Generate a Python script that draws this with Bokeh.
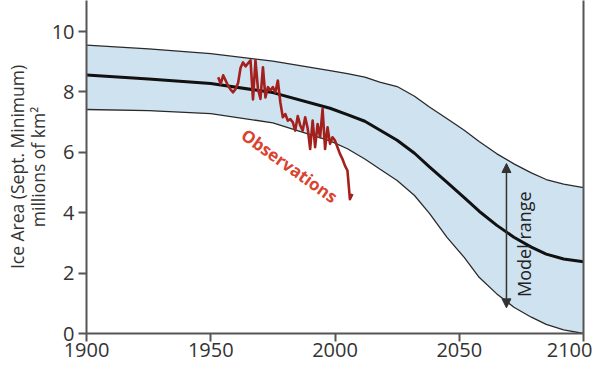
import math
from bokeh.plotting import figure
from bokeh.models import Range1d, LinearAxis, FixedTicker, Arrow, NormalHead, Label
from bokeh.embed import file_html
from bokeh.resources import INLINE

# ---- data ----
model_years = [1900, 1925, 1950, 1975, 1998, 2005, 2012, 2018, 2025, 2032, 2038,
               2045, 2052, 2058, 2065, 2072, 2079, 2085, 2092, 2100]
model_upper = [9.55, 9.43, 9.27, 9.02, 8.71, 8.61, 8.49, 8.33, 8.18, 7.86, 7.50,
               7.12, 6.73, 6.36, 5.96, 5.62, 5.32, 5.10, 4.95, 4.83]
model_mean = [8.56, 8.43, 8.28, 7.98, 7.46, 7.25, 7.03, 6.74, 6.40, 5.97, 5.52,
              5.01, 4.50, 4.05, 3.59, 3.19, 2.86, 2.63, 2.47, 2.38]
model_lower = [7.42, 7.38, 7.28, 6.98, 6.38, 6.12, 5.78, 5.45, 5.07, 4.57, 3.98,
               3.19, 2.52, 1.86, 1.32, 0.87, 0.54, 0.30, 0.12, 0.0]

obs_years = list(range(1953, 2008))
obs_values = [8.49, 8.27, 8.55, 8.38, 8.20, 8.08, 7.99, 8.10, 8.30, 8.80,
              8.98, 8.85, 8.95, 9.05, 7.75, 9.05, 8.10, 7.77, 8.82, 7.82,
              8.16, 8.05, 8.16, 7.99, 8.38, 7.66, 7.16, 7.27, 7.05, 7.10,
              7.00, 6.72, 7.20, 6.90, 6.72, 7.16, 6.80, 6.11, 7.05, 6.17,
              6.94, 6.50, 7.44, 6.11, 6.83, 6.28, 6.50, 6.39, 6.17, 5.95,
              5.78, 5.56, 5.40, 4.45, 4.62]

x_ticks = [1900, 1950, 2000, 2050, 2100]
y_ticks = [0, 2, 4, 6, 8, 10]

arrow_year = 2069
arrow_low, arrow_high = 0.85, 5.63

FONT = "Open Sans"
AXIS_COLOR = "#555555"
TEXT_COLOR = "#333333"

p = figure(width=592, height=368, x_range=Range1d(1900, 2100), y_range=Range1d(0, 11.03),
           output_backend="svg", toolbar_location=None,
           min_border_left=86, min_border_right=9, min_border_top=0, min_border_bottom=35)
p.grid.visible = False
p.outline_line_color = None
p.background_fill_color = "white"

# model band
p.varea(x=model_years, y1=model_lower, y2=model_upper, fill_color="#cfe2f0")
p.line(model_years, model_upper, line_color="#2a2a2a", line_width=1.3)
p.line(model_years, model_lower, line_color="#2a2a2a", line_width=1.3)
p.line(model_years, model_mean, line_color="#111111", line_width=3)

# observations
p.line(obs_years, obs_values, line_color="#a3201c", line_width=2.6, line_join="round")

# arrow
p.add_layout(Arrow(x_start=arrow_year, y_start=arrow_low, x_end=arrow_year, y_end=arrow_high,
                   line_color="#333333", line_width=1.5,
                   start=NormalHead(size=9, fill_color="#333333", line_color="#333333"),
                   end=NormalHead(size=9, fill_color="#333333", line_color="#333333")))

p.add_layout(Label(x=2076.2, y=2.96, text="Model range", angle=math.pi / 2,
                   text_align="center", text_baseline="middle",
                   text_font=FONT, text_font_size="18px", text_color="#222222"))

p.add_layout(Label(x=1981.7, y=5.56, text="Observations", angle=-0.62,
                   text_align="center", text_baseline="middle",
                   text_font=FONT, text_font_size="17px", text_font_style="bold",
                   text_color="#d9432f"))

# axes styling
for ax in (p.xaxis[0], p.yaxis[0]):
    ax.axis_line_color = AXIS_COLOR
    ax.axis_line_width = 2
    ax.major_tick_line_color = AXIS_COLOR
    ax.major_tick_line_width = 2
    ax.major_tick_out = 8
    ax.major_tick_in = 0
    ax.minor_tick_line_color = None
    ax.major_label_text_font = FONT
    ax.major_label_text_font_size = "20px"
    ax.major_label_text_color = TEXT_COLOR

p.xaxis[0].ticker = FixedTicker(ticks=x_ticks)
p.yaxis[0].ticker = FixedTicker(ticks=y_ticks)
p.xaxis[0].major_label_standoff = 1
p.yaxis[0].major_label_standoff = 4

p.yaxis[0].axis_label = "millions of km²"
p.yaxis[0].axis_label_text_font = FONT
p.yaxis[0].axis_label_text_font_size = "17.5px"
p.yaxis[0].axis_label_text_font_style = "normal"
p.yaxis[0].axis_label_text_color = TEXT_COLOR
p.yaxis[0].axis_label_standoff = -1

outer = LinearAxis(ticker=FixedTicker(ticks=[]), axis_line_color=None,
                   major_tick_out=0, major_tick_in=0, major_label_standoff=0,
                   minor_tick_line_color=None, major_tick_line_color=None,
                   axis_label="Ice Area (Sept. Minimum)", axis_label_standoff=-6,
                   axis_label_text_font=FONT, axis_label_text_font_size="17.5px",
                   axis_label_text_font_style="normal", axis_label_text_color=TEXT_COLOR)
p.add_layout(outer, "left")

right = LinearAxis(ticker=FixedTicker(ticks=[]), axis_line_color=AXIS_COLOR, axis_line_width=2,
                   major_label_text_font_size="0px", minor_tick_line_color=None,
                   major_tick_line_color=None)
p.add_layout(right, "right")

open("out.html", "w").write(file_html(p, INLINE))
